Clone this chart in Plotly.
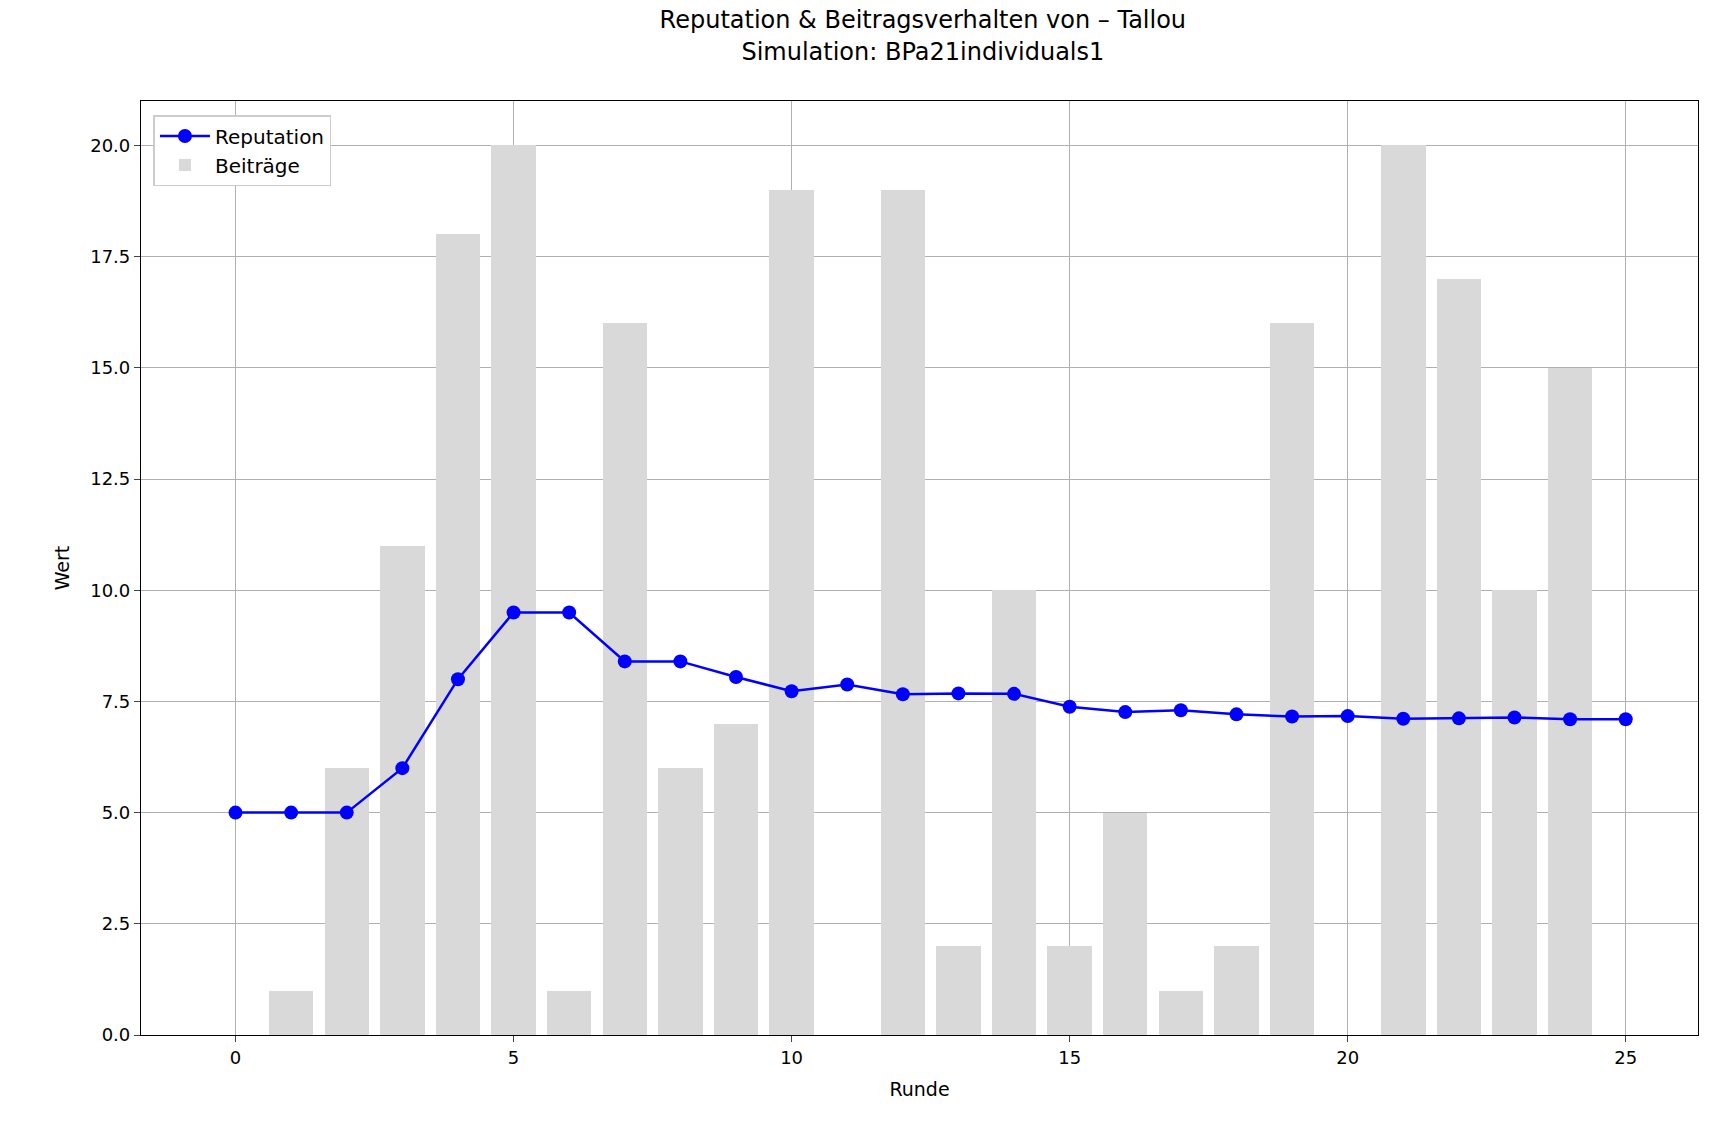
import plotly.graph_objects as go

runden = list(range(26))
reputation = [5, 5, 5, 6, 8, 9.5, 9.5, 8.4, 8.4, 8.05, 7.73, 7.88, 7.66, 7.68, 7.67,
              7.38, 7.26, 7.3, 7.21, 7.16, 7.17, 7.11, 7.12, 7.14, 7.1, 7.1]
bar_runden = list(range(25))
beitraege = [0, 1, 6, 11, 18, 20, 1, 16, 6, 7, 19, 0, 19, 2, 10, 2, 5, 1, 2, 16, 0, 20, 17, 10, 15]

fig = go.Figure()
fig.add_trace(go.Bar(x=bar_runden, y=beitraege, width=0.8, name="Beiträge",
                     marker=dict(color="#d9d9d9", line=dict(width=0))))
fig.add_trace(go.Scatter(x=runden, y=reputation, mode="lines+markers", name="Reputation",
                         line=dict(color="blue", width=2.5), marker=dict(color="blue", size=14)))

axis = dict(showline=True, linecolor="black", linewidth=1.2, mirror=True, ticks="outside", ticklen=6,
            showgrid=True, gridcolor="#b0b0b0", zeroline=False,
            tickfont=dict(size=18, color="black"), title_font=dict(size=19, color="black"))
fig.update_layout(
    width=1710, height=1131, plot_bgcolor="white", paper_bgcolor="white",
    font=dict(family="DejaVu Sans", color="black"),
    title=dict(text="Reputation & Beitragsverhalten von – Tallou<br>Simulation: BPa21individuals1",
               x=0.535, xanchor="center", y=0.982, font=dict(size=24)),
    margin=dict(l=133, r=20, t=93, b=104),
    xaxis=dict(axis, range=[-1.7, 26.3], tickvals=[0, 5, 10, 15, 20, 25], title_text="Runde"),
    yaxis=dict(axis, range=[0, 21], tickvals=[0, 2.5, 5, 7.5, 10, 12.5, 15, 17.5, 20],
               ticktext=["0.0", "2.5", "5.0", "7.5", "10.0", "12.5", "15.0", "17.5", "20.0"],
               title_text="Wert"),
    legend=dict(x=0.008, y=0.985, xanchor="left", yanchor="top", traceorder="reversed",
                bordercolor="#cccccc", borderwidth=1.5, font=dict(size=20), itemwidth=50),
    bargap=0,
)
fig.write_html("out.html")
